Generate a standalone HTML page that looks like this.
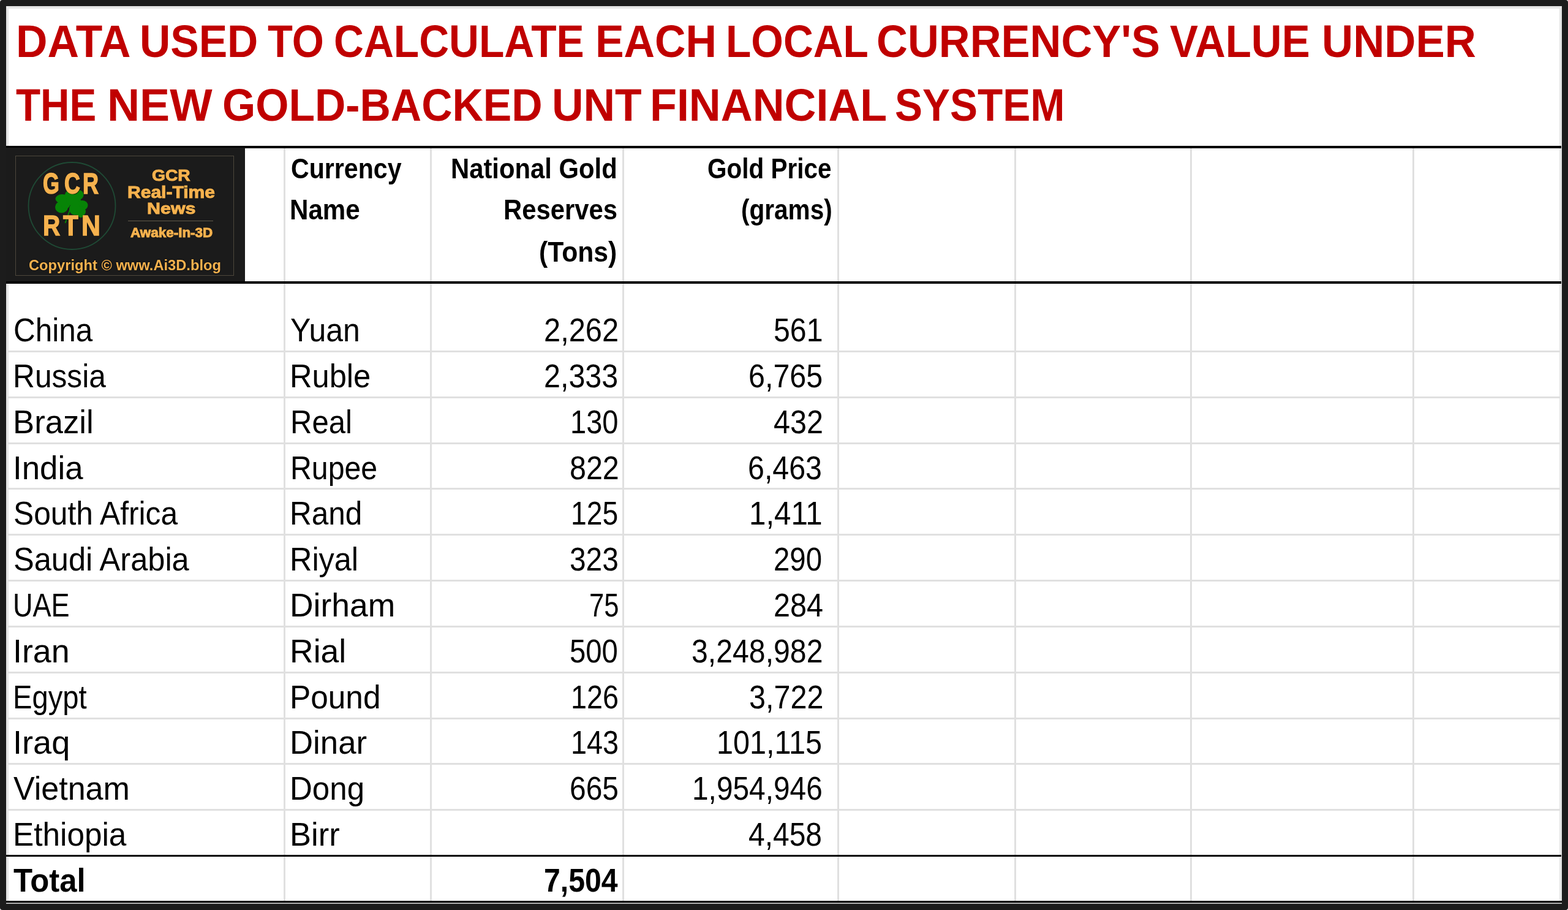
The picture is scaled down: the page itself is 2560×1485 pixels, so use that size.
<!DOCTYPE html>
<html><head><meta charset="utf-8"><style>
html,body{margin:0;padding:0;background:#fff;}
body{width:2560px;height:1485px;overflow:hidden;position:relative;font-family:"Liberation Sans",Arial,sans-serif;}
.t{position:absolute;white-space:nowrap;line-height:1;transform-origin:0 0;}
</style></head><body>
<div style="position:absolute;left:0;top:0;width:2560px;height:1485px;background:#1c1c1c;border-radius:4px"></div>
<div style="position:absolute;left:10px;top:10px;width:2540px;height:1465px;background:#fff"></div>
<div style="position:absolute;left:10px;top:10px;width:2540px;height:3.7px;background:#e6e6e6"></div>
<div style="position:absolute;left:10px;top:10px;width:3.7px;height:1461px;background:#e6e6e6"></div>
<div style="position:absolute;left:2545.5px;top:10px;width:4.5px;height:1460px;background:#e6e6e6"></div>
<div style="position:absolute;left:463.2px;top:241px;width:3px;height:1230px;background:#e0e0e0"></div>
<div style="position:absolute;left:702.0px;top:241px;width:3px;height:1230px;background:#e0e0e0"></div>
<div style="position:absolute;left:1016.2px;top:241px;width:3px;height:1230px;background:#e0e0e0"></div>
<div style="position:absolute;left:1367.0px;top:241px;width:3px;height:1230px;background:#e0e0e0"></div>
<div style="position:absolute;left:1656.0px;top:241px;width:3px;height:1230px;background:#e0e0e0"></div>
<div style="position:absolute;left:1942.9px;top:241px;width:3px;height:1230px;background:#e0e0e0"></div>
<div style="position:absolute;left:2306.1px;top:241px;width:3px;height:1230px;background:#e0e0e0"></div>
<div style="position:absolute;left:13px;top:571.9px;width:2534px;height:3px;background:#e0e0e0"></div>
<div style="position:absolute;left:13px;top:646.7px;width:2534px;height:3px;background:#e0e0e0"></div>
<div style="position:absolute;left:13px;top:721.5px;width:2534px;height:3px;background:#e0e0e0"></div>
<div style="position:absolute;left:13px;top:796.4px;width:2534px;height:3px;background:#e0e0e0"></div>
<div style="position:absolute;left:13px;top:871.2px;width:2534px;height:3px;background:#e0e0e0"></div>
<div style="position:absolute;left:13px;top:946.0px;width:2534px;height:3px;background:#e0e0e0"></div>
<div style="position:absolute;left:13px;top:1020.8px;width:2534px;height:3px;background:#e0e0e0"></div>
<div style="position:absolute;left:13px;top:1095.6px;width:2534px;height:3px;background:#e0e0e0"></div>
<div style="position:absolute;left:13px;top:1170.5px;width:2534px;height:3px;background:#e0e0e0"></div>
<div style="position:absolute;left:13px;top:1245.3px;width:2534px;height:3px;background:#e0e0e0"></div>
<div style="position:absolute;left:13px;top:1320.1px;width:2534px;height:3px;background:#e0e0e0"></div>
<div style="position:absolute;left:10px;top:238.3px;width:2539px;height:3.5px;background:#000"></div>
<div style="position:absolute;left:10px;top:241px;width:389.7px;height:219px;background:#1b1b1b"></div>
<div style="position:absolute;left:24.8px;top:254px;width:357px;height:196px;box-sizing:border-box;border:1.6px solid #4d473c"></div>
<div style="position:absolute;left:209.2px;top:360px;width:139px;height:1.3px;background:#625a4b"></div>
<svg style="position:absolute;left:0;top:0" width="400" height="470" viewBox="0 0 400 470">
<circle cx="117.5" cy="336" r="71" fill="none" stroke="#1f4a35" stroke-width="1.8"/>
<g fill="#078407">
<ellipse cx="101.5" cy="324.5" rx="11" ry="7.5"/>
<ellipse cx="100.5" cy="338" rx="10.5" ry="9.5"/>
<ellipse cx="107" cy="331" rx="8" ry="10"/>
<ellipse cx="118" cy="318" rx="12" ry="9"/>
<ellipse cx="128" cy="318" rx="8.5" ry="8"/>
<ellipse cx="120" cy="327" rx="12" ry="9"/>
<ellipse cx="134" cy="335" rx="9.5" ry="8"/>
<ellipse cx="131" cy="345" rx="9" ry="8"/>
<ellipse cx="122" cy="341" rx="9" ry="10"/>
<ellipse cx="132" cy="351" rx="4" ry="4"/>
</g>
<path d="M115 340 L106.5 364" stroke="#078407" stroke-width="2" fill="none"/>
</svg>
<div style="position:absolute;left:10px;top:459.2px;width:2539px;height:3.5px;background:#000"></div>
<div style="position:absolute;left:10px;top:1395.3px;width:2539px;height:3px;background:#000"></div>
<div style="position:absolute;left:10px;top:1469.8px;width:2540px;height:3.2px;background:#000"></div>
<div style="position:absolute;left:10px;top:1473px;width:2540px;height:2px;background:#b0b0b0"></div>
<div class="t" style="left:25.53px;top:29.65px;font-size:74.7px;font-weight:700;color:#c00000;transform:scaleX(0.9545);">DATA</div>
<div class="t" style="left:227.77px;top:29.65px;font-size:74.7px;font-weight:700;color:#c00000;transform:scaleX(0.9314);">USED</div>
<div class="t" style="left:436.70px;top:29.65px;font-size:74.7px;font-weight:700;color:#c00000;transform:scaleX(0.8965);">TO</div>
<div class="t" style="left:545.18px;top:29.65px;font-size:74.7px;font-weight:700;color:#c00000;transform:scaleX(0.9065);">CALCULATE</div>
<div class="t" style="left:972.02px;top:29.65px;font-size:74.7px;font-weight:700;color:#c00000;transform:scaleX(0.9351);">EACH</div>
<div class="t" style="left:1184.77px;top:29.65px;font-size:74.7px;font-weight:700;color:#c00000;transform:scaleX(0.9055);">LOCAL</div>
<div class="t" style="left:1431.37px;top:29.65px;font-size:74.7px;font-weight:700;color:#c00000;transform:scaleX(0.9435);">CURRENCY'S</div>
<div class="t" style="left:1910.10px;top:29.65px;font-size:74.7px;font-weight:700;color:#c00000;transform:scaleX(0.9237);">VALUE</div>
<div class="t" style="left:2157.71px;top:29.65px;font-size:74.7px;font-weight:700;color:#c00000;transform:scaleX(0.9481);">UNDER</div>
<div class="t" style="left:26.10px;top:134.25px;font-size:74.7px;font-weight:700;color:#c00000;transform:scaleX(0.8781);">THE</div>
<div class="t" style="left:175.38px;top:134.25px;font-size:74.7px;font-weight:700;color:#c00000;transform:scaleX(0.9844);">NEW</div>
<div class="t" style="left:362.90px;top:134.25px;font-size:74.7px;font-weight:700;color:#c00000;transform:scaleX(0.9331);">GOLD-BACKED</div>
<div class="t" style="left:900.78px;top:134.25px;font-size:74.7px;font-weight:700;color:#c00000;transform:scaleX(0.9558);">UNT</div>
<div class="t" style="left:1060.79px;top:134.25px;font-size:74.7px;font-weight:700;color:#c00000;transform:scaleX(0.9623);">FINANCIAL</div>
<div class="t" style="left:1460.69px;top:134.25px;font-size:74.7px;font-weight:700;color:#c00000;transform:scaleX(0.9037);">SYSTEM</div>
<div class="t" style="left:475.12px;top:252.25px;font-size:46.9px;font-weight:700;color:#000;transform:scaleX(0.8769);">Currency</div>
<div class="t" style="left:473.30px;top:319.35px;font-size:46.9px;font-weight:700;color:#000;transform:scaleX(0.8986);">Name</div>
<div class="t" style="left:736.23px;top:252.25px;font-size:46.9px;font-weight:700;color:#000;transform:scaleX(0.8915);">National Gold</div>
<div class="t" style="left:821.73px;top:319.35px;font-size:46.9px;font-weight:700;color:#000;transform:scaleX(0.8914);">Reserves</div>
<div class="t" style="left:880.18px;top:387.75px;font-size:46.9px;font-weight:700;color:#000;transform:scaleX(0.9108);">(Tons)</div>
<div class="t" style="left:1155.24px;top:251.95px;font-size:46.9px;font-weight:700;color:#000;transform:scaleX(0.8630);">Gold Price</div>
<div class="t" style="left:1210.47px;top:318.85px;font-size:46.9px;font-weight:700;color:#000;transform:scaleX(0.8648);">(grams)</div>
<div class="t" style="left:21.73px;top:512.10px;font-size:53.0px;font-weight:400;color:#000;transform:scaleX(0.9328);">China</div>
<div class="t" style="left:474.06px;top:512.10px;font-size:53.0px;font-weight:400;color:#000;transform:scaleX(0.9423);">Yuan</div>
<div class="t" style="left:888.46px;top:512.10px;font-size:53.0px;font-weight:400;color:#000;transform:scaleX(0.9208);">2,262</div>
<div class="t" style="left:1263.48px;top:512.10px;font-size:53.0px;font-weight:400;color:#000;transform:scaleX(0.9100);">561</div>
<div class="t" style="left:21.25px;top:586.92px;font-size:53.0px;font-weight:400;color:#000;transform:scaleX(0.9374);">Russia</div>
<div class="t" style="left:473.38px;top:586.92px;font-size:53.0px;font-weight:400;color:#000;transform:scaleX(0.9549);">Ruble</div>
<div class="t" style="left:888.47px;top:586.92px;font-size:53.0px;font-weight:400;color:#000;transform:scaleX(0.9136);">2,333</div>
<div class="t" style="left:1221.77px;top:586.92px;font-size:53.0px;font-weight:400;color:#000;transform:scaleX(0.9144);">6,765</div>
<div class="t" style="left:21.02px;top:661.74px;font-size:53.0px;font-weight:400;color:#000;transform:scaleX(0.9940);">Brazil</div>
<div class="t" style="left:473.50px;top:661.74px;font-size:53.0px;font-weight:400;color:#000;transform:scaleX(0.9244);">Real</div>
<div class="t" style="left:931.15px;top:661.74px;font-size:53.0px;font-weight:400;color:#000;transform:scaleX(0.8873);">130</div>
<div class="t" style="left:1262.98px;top:661.74px;font-size:53.0px;font-weight:400;color:#000;transform:scaleX(0.9158);">432</div>
<div class="t" style="left:21.01px;top:736.56px;font-size:53.0px;font-weight:400;color:#000;transform:scaleX(0.9968);">India</div>
<div class="t" style="left:473.56px;top:736.56px;font-size:53.0px;font-weight:400;color:#000;transform:scaleX(0.9104);">Rupee</div>
<div class="t" style="left:930.37px;top:736.56px;font-size:53.0px;font-weight:400;color:#000;transform:scaleX(0.9136);">822</div>
<div class="t" style="left:1221.48px;top:736.56px;font-size:53.0px;font-weight:400;color:#000;transform:scaleX(0.9121);">6,463</div>
<div class="t" style="left:21.72px;top:811.38px;font-size:53.0px;font-weight:400;color:#000;transform:scaleX(0.9379);">South Africa</div>
<div class="t" style="left:473.47px;top:811.38px;font-size:53.0px;font-weight:400;color:#000;transform:scaleX(0.9332);">Rand</div>
<div class="t" style="left:932.11px;top:811.38px;font-size:53.0px;font-weight:400;color:#000;transform:scaleX(0.8728);">125</div>
<div class="t" style="left:1222.98px;top:811.38px;font-size:53.0px;font-weight:400;color:#000;transform:scaleX(0.9303);">1,411</div>
<div class="t" style="left:21.69px;top:886.20px;font-size:53.0px;font-weight:400;color:#000;transform:scaleX(0.9540);">Saudi Arabia</div>
<div class="t" style="left:473.40px;top:886.20px;font-size:53.0px;font-weight:400;color:#000;transform:scaleX(0.9511);">Riyal</div>
<div class="t" style="left:930.39px;top:886.20px;font-size:53.0px;font-weight:400;color:#000;transform:scaleX(0.9029);">323</div>
<div class="t" style="left:1262.61px;top:886.20px;font-size:53.0px;font-weight:400;color:#000;transform:scaleX(0.8946);">290</div>
<div class="t" style="left:21.00px;top:961.02px;font-size:53.0px;font-weight:400;color:#000;transform:scaleX(0.8502);">UAE</div>
<div class="t" style="left:473.17px;top:961.02px;font-size:53.0px;font-weight:400;color:#000;transform:scaleX(1.0082);">Dirham</div>
<div class="t" style="left:961.66px;top:961.02px;font-size:53.0px;font-weight:400;color:#000;transform:scaleX(0.8220);">75</div>
<div class="t" style="left:1262.57px;top:961.02px;font-size:53.0px;font-weight:400;color:#000;transform:scaleX(0.9158);">284</div>
<div class="t" style="left:20.94px;top:1035.84px;font-size:53.0px;font-weight:400;color:#000;transform:scaleX(1.0147);">Iran</div>
<div class="t" style="left:473.16px;top:1035.84px;font-size:53.0px;font-weight:400;color:#000;transform:scaleX(1.0092);">Rial</div>
<div class="t" style="left:930.42px;top:1035.84px;font-size:53.0px;font-weight:400;color:#000;transform:scaleX(0.8923);">500</div>
<div class="t" style="left:1128.88px;top:1035.84px;font-size:53.0px;font-weight:400;color:#000;transform:scaleX(0.9096);">3,248,982</div>
<div class="t" style="left:21.44px;top:1110.66px;font-size:53.0px;font-weight:400;color:#000;transform:scaleX(0.8892);">Egypt</div>
<div class="t" style="left:473.32px;top:1110.66px;font-size:53.0px;font-weight:400;color:#000;transform:scaleX(0.9688);">Pound</div>
<div class="t" style="left:932.07px;top:1110.66px;font-size:53.0px;font-weight:400;color:#000;transform:scaleX(0.8836);">126</div>
<div class="t" style="left:1222.57px;top:1110.66px;font-size:53.0px;font-weight:400;color:#000;transform:scaleX(0.9161);">3,722</div>
<div class="t" style="left:20.91px;top:1185.48px;font-size:53.0px;font-weight:400;color:#000;transform:scaleX(1.0218);">Iraq</div>
<div class="t" style="left:473.22px;top:1185.48px;font-size:53.0px;font-weight:400;color:#000;transform:scaleX(0.9951);">Dinar</div>
<div class="t" style="left:932.07px;top:1185.48px;font-size:53.0px;font-weight:400;color:#000;transform:scaleX(0.8836);">143</div>
<div class="t" style="left:1169.63px;top:1185.48px;font-size:53.0px;font-weight:400;color:#000;transform:scaleX(0.9173);">101,115</div>
<div class="t" style="left:22.20px;top:1260.30px;font-size:53.0px;font-weight:400;color:#000;transform:scaleX(0.9810);">Vietnam</div>
<div class="t" style="left:473.35px;top:1260.30px;font-size:53.0px;font-weight:400;color:#000;transform:scaleX(0.9632);">Dong</div>
<div class="t" style="left:929.79px;top:1260.30px;font-size:53.0px;font-weight:400;color:#000;transform:scaleX(0.9040);">665</div>
<div class="t" style="left:1129.69px;top:1260.30px;font-size:53.0px;font-weight:400;color:#000;transform:scaleX(0.9023);">1,954,946</div>
<div class="t" style="left:21.13px;top:1335.12px;font-size:53.0px;font-weight:400;color:#000;transform:scaleX(0.9678);">Ethiopia</div>
<div class="t" style="left:473.24px;top:1335.12px;font-size:53.0px;font-weight:400;color:#000;transform:scaleX(0.9900);">Birr</div>
<div class="t" style="left:1222.39px;top:1335.12px;font-size:53.0px;font-weight:400;color:#000;transform:scaleX(0.9051);">4,458</div>
<div class="t" style="left:22.00px;top:1410.40px;font-size:53.0px;font-weight:700;color:#000;transform:scaleX(0.9585);">Total</div>
<div class="t" style="left:888.18px;top:1410.40px;font-size:53.0px;font-weight:700;color:#000;transform:scaleX(0.9096);">7,504</div>
<div class="t" style="left:70.07px;top:275.50px;font-size:47.2px;font-weight:700;color:#f6b24e;transform:scaleX(0.7333);text-shadow:0 0 2px #000,1px 1px 1px #000;-webkit-text-stroke:1.6px #f6b24e">G</div>
<div class="t" style="left:104.94px;top:275.50px;font-size:47.2px;font-weight:700;color:#f6b24e;transform:scaleX(0.7594);text-shadow:0 0 2px #000,1px 1px 1px #000;-webkit-text-stroke:1.6px #f6b24e">C</div>
<div class="t" style="left:135.01px;top:275.50px;font-size:47.2px;font-weight:700;color:#f6b24e;transform:scaleX(0.7645);text-shadow:0 0 2px #000,1px 1px 1px #000;-webkit-text-stroke:1.6px #f6b24e">R</div>
<div class="t" style="left:70.42px;top:346.10px;font-size:45.6px;font-weight:700;color:#f6b24e;transform:scaleX(0.8586);text-shadow:0 0 2px #000,1px 1px 1px #000;-webkit-text-stroke:1.4px #f6b24e">R</div>
<div class="t" style="left:102.90px;top:346.10px;font-size:45.6px;font-weight:700;color:#f6b24e;transform:scaleX(0.8893);text-shadow:0 0 2px #000,1px 1px 1px #000;-webkit-text-stroke:1.4px #f6b24e">T</div>
<div class="t" style="left:133.38px;top:346.10px;font-size:45.6px;font-weight:700;color:#f6b24e;transform:scaleX(0.9407);text-shadow:0 0 2px #000,1px 1px 1px #000;-webkit-text-stroke:1.4px #f6b24e">N</div>
<div class="t" style="left:248.11px;top:274.25px;font-size:25.9px;font-weight:700;color:#f6b24e;transform:scaleX(1.0873);text-shadow:0 0 2px #000;-webkit-text-stroke:1px #f6b24e">GCR</div>
<div class="t" style="left:208.09px;top:299.70px;font-size:27.2px;font-weight:700;color:#f6b24e;transform:scaleX(1.1050);text-shadow:0 0 2px #000;-webkit-text-stroke:1px #f6b24e">Real-Time</div>
<div class="t" style="left:240.03px;top:328.05px;font-size:25.9px;font-weight:700;color:#f6b24e;transform:scaleX(1.1746);text-shadow:0 0 2px #000;-webkit-text-stroke:1px #f6b24e">News</div>
<div class="t" style="left:212.80px;top:369.80px;font-size:21.4px;font-weight:700;color:#f6b24e;transform:scaleX(1.0491);text-shadow:0 0 2px #000;-webkit-text-stroke:1px #f6b24e">Awake-In-3D</div>
<div class="t" style="left:46.80px;top:420.95px;font-size:24.1px;font-weight:700;color:#f6b24e;transform:scaleX(0.9829);text-shadow:0 0 2px #000">Copyright © www.Ai3D.blog</div>
</body></html>
